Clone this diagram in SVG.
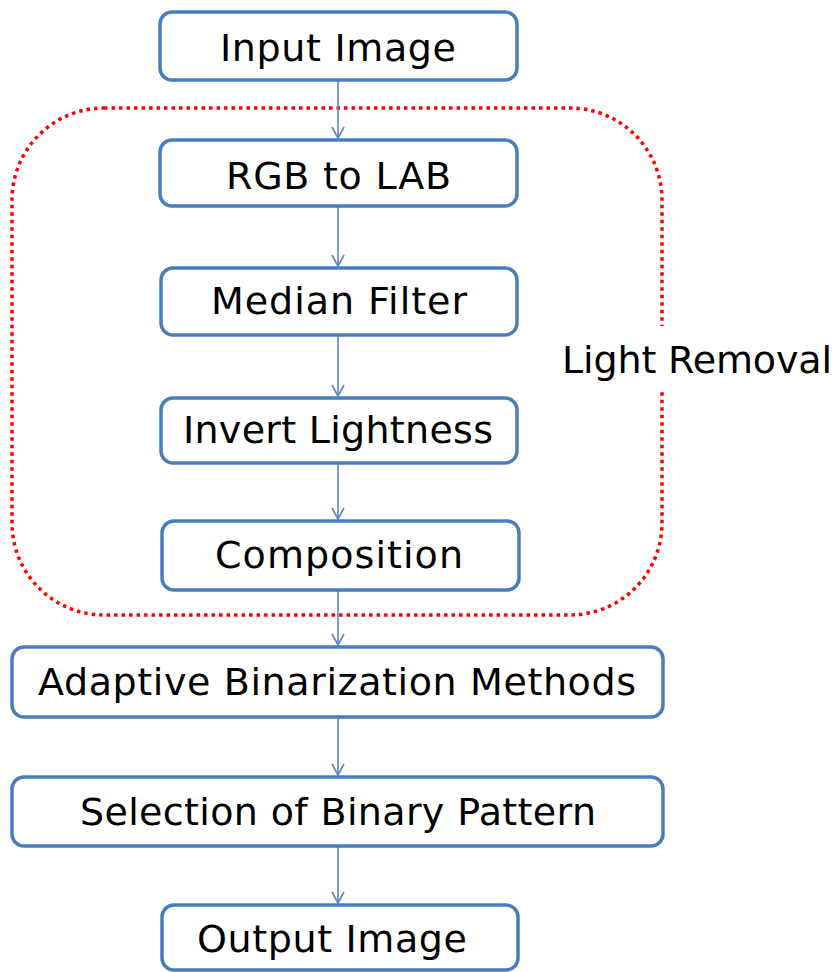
<svg xmlns="http://www.w3.org/2000/svg" width="837" height="972" viewBox="0 0 837 972">
<style>
.box{fill:#fff;stroke:#4a7ebb;stroke-width:3.5}
.lbl{font-family:"DejaVu Sans","Noto Sans",sans-serif;font-size:38px;fill:#000;text-anchor:middle}
.con{stroke:#5b87c4;stroke-width:1.6;fill:none}
</style>
<defs>
<marker id="ah" markerWidth="14" markerHeight="14" refX="12" refY="7" orient="auto" markerUnits="userSpaceOnUse">
<path d="M1,1 L12,7 L1,13" fill="none" stroke="#5b87c4" stroke-width="1.6"/>
</marker>
</defs>
<g id="light-removal">
<rect x="12" y="108" width="650" height="507" rx="92" ry="92" fill="none" stroke="#ff0000" stroke-width="3.5" stroke-dasharray="3.5 4"/>
<rect x="556" y="326" width="281" height="64" fill="#fff"/>
<text x="562" y="373" textLength="270" lengthAdjust="spacing" style="font-family:'DejaVu Sans','Noto Sans',sans-serif;font-size:38px;fill:#000">Light Removal</text>
</g>
<g id="connectors">
<line class="con" x1="338" y1="81" x2="338" y2="138" marker-end="url(#ah)"/>
<line class="con" x1="338" y1="206" x2="338" y2="266" marker-end="url(#ah)"/>
<line class="con" x1="338" y1="335" x2="338" y2="396" marker-end="url(#ah)"/>
<line class="con" x1="338" y1="463" x2="338" y2="519" marker-end="url(#ah)"/>
<line class="con" x1="338" y1="590" x2="338" y2="645" marker-end="url(#ah)"/>
<line class="con" x1="338" y1="717" x2="338" y2="775" marker-end="url(#ah)"/>
<line class="con" x1="338" y1="846" x2="338" y2="903" marker-end="url(#ah)"/>
</g>
<g id="input-image"><rect class="box" x="160" y="12" width="357" height="68" rx="12"/><text class="lbl" x="338" y="61" textLength="236" lengthAdjust="spacing">Input Image</text></g>
<g id="rgb-to-lab"><rect class="box" x="160" y="140" width="357" height="66" rx="12"/><text class="lbl" x="338.5" y="189" textLength="225" lengthAdjust="spacing">RGB to LAB</text></g>
<g id="median-filter"><rect class="box" x="161" y="268" width="356" height="67" rx="12"/><text class="lbl" x="339" y="314" textLength="256" lengthAdjust="spacing">Median Filter</text></g>
<g id="invert-lightness"><rect class="box" x="161" y="398" width="356" height="65" rx="12"/><text class="lbl" x="338" y="443" textLength="310" lengthAdjust="spacing">Invert Lightness</text></g>
<g id="composition"><rect class="box" x="162" y="521" width="357" height="69" rx="12"/><text class="lbl" x="339" y="568" textLength="248" lengthAdjust="spacing">Composition</text></g>
<g id="adaptive-binarization"><rect class="box" x="12" y="647" width="651" height="70" rx="12"/><text class="lbl" x="337" y="695" textLength="598" lengthAdjust="spacing">Adaptive Binarization Methods</text></g>
<g id="selection-binary-pattern"><rect class="box" x="12" y="777" width="651" height="69" rx="12"/><text class="lbl" x="338" y="825" textLength="516" lengthAdjust="spacing">Selection of Binary Pattern</text></g>
<g id="output-image"><rect class="box" x="162" y="905" width="356" height="65" rx="12"/><text class="lbl" x="332" y="952" textLength="270" lengthAdjust="spacing">Output Image</text></g>
</svg>
